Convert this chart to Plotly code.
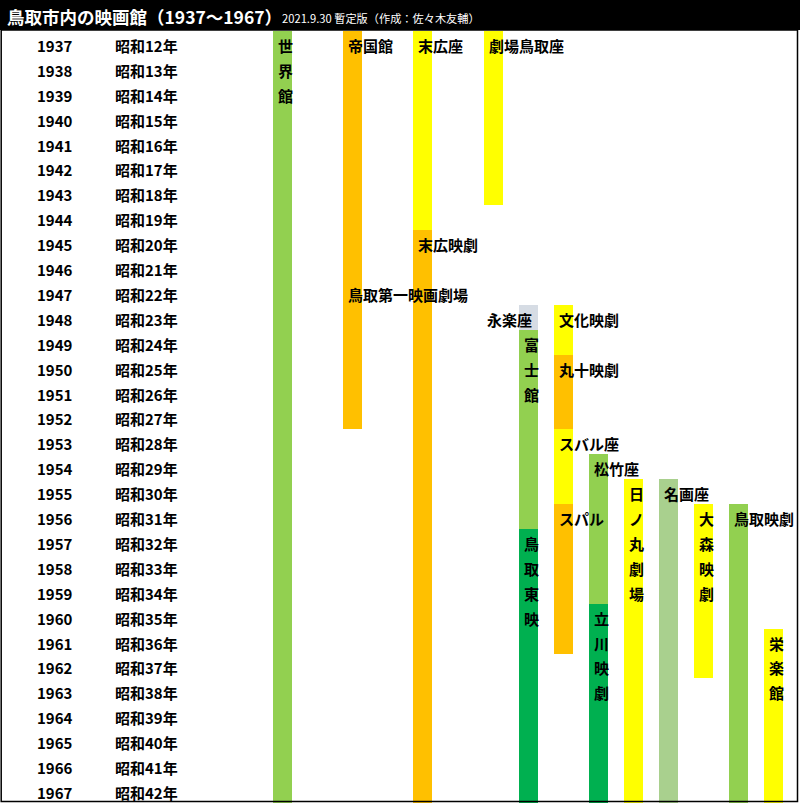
import plotly.graph_objects as go

# ---------------- data ----------------
years = [1937, 1938, 1939, 1940, 1941, 1942, 1943, 1944, 1945, 1946, 1947,
         1948, 1949, 1950, 1951, 1952, 1953, 1954, 1955, 1956, 1957, 1958,
         1959, 1960, 1961, 1962, 1963, 1964, 1965, 1966, 1967]
showa = ["昭和12年", "昭和13年", "昭和14年", "昭和15年", "昭和16年", "昭和17年",
         "昭和18年", "昭和19年", "昭和20年", "昭和21年", "昭和22年", "昭和23年",
         "昭和24年", "昭和25年", "昭和26年", "昭和27年", "昭和28年", "昭和29年",
         "昭和30年", "昭和31年", "昭和32年", "昭和33年", "昭和34年", "昭和35年",
         "昭和36年", "昭和37年", "昭和38年", "昭和39年", "昭和40年", "昭和41年",
         "昭和42年"]

# lanes (one column per cinema lineage)
lanes = ["世界館", "帝国館", "末広座", "劇場鳥取座", "永楽座", "文化映劇",
         "松竹座", "日ノ丸劇場", "名画座", "大森映劇", "鳥取映劇", "栄楽館"]

# operating periods
seg_lane = ["世界館", "帝国館", "末広座", "末広座", "劇場鳥取座",
            "永楽座", "永楽座", "永楽座",
            "文化映劇", "文化映劇", "文化映劇", "文化映劇",
            "松竹座", "松竹座", "日ノ丸劇場", "名画座", "大森映劇", "鳥取映劇", "栄楽館"]
seg_start = [1937, 1937, 1937, 1945, 1937,
             1948, 1949, 1957,
             1948, 1950, 1953, 1956,
             1954, 1960, 1955, 1955, 1956, 1956, 1961]
seg_end = [1967, 1952, 1944, 1967, 1943,
           1948, 1956, 1967,
           1949, 1952, 1955, 1961,
           1959, 1967, 1967, 1967, 1962, 1967, 1967]
seg_group = ["green", "orange", "yellow", "orange", "yellow",
             "gray", "green", "darkgreen",
             "yellow", "orange", "yellow", "orange",
             "green", "darkgreen", "yellow", "lightgreen", "yellow", "green", "yellow"]

# names written in the chart
label_text = ["世界館", "帝国館", "鳥取第一映画劇場", "末広座", "末広映劇", "劇場鳥取座",
              "永楽座", "富士館", "鳥取東映", "文化映劇", "丸十映劇", "スバル座", "スパル",
              "松竹座", "立川映劇", "日ノ丸劇場", "名画座", "大森映劇", "鳥取映劇", "栄楽館"]
label_lane = ["世界館", "帝国館", "帝国館", "末広座", "末広座", "劇場鳥取座",
              "永楽座", "永楽座", "永楽座", "文化映劇", "文化映劇", "文化映劇", "文化映劇",
              "松竹座", "松竹座", "日ノ丸劇場", "名画座", "大森映劇", "鳥取映劇", "栄楽館"]
label_year = [1937, 1937, 1947, 1937, 1945, 1937,
              1948, 1949, 1957, 1948, 1950, 1953, 1956,
              1954, 1960, 1955, 1955, 1956, 1956, 1961]
label_dir = ["v", "h", "h", "h", "h", "h",
             "left", "v", "v", "h", "h", "h", "h",
             "h", "v", "v", "h", "v", "h", "v"]

title = "鳥取市内の映画館（1937〜1967）"
subtitle = "2021.9.30 暫定版（作成：佐々木友輔）"

# ---------------- styles / layout ----------------
palette = {"green": "#92D050", "orange": "#FFC000", "yellow": "#FFFF00",
           "gray": "#D6DCE4", "darkgreen": "#00B050", "lightgreen": "#A9D08E"}
lane_slot = {"世界館": 0, "帝国館": 2, "末広座": 4, "劇場鳥取座": 6, "永楽座": 7,
             "文化映劇": 8, "松竹座": 9, "日ノ丸劇場": 10, "名画座": 11,
             "大森映劇": 12, "鳥取映劇": 13, "栄楽館": 14}
PX_PER_LANE = 35.1
PX_PER_YEAR = 24.9
YEAR_COL = (35 - 282.5) / PX_PER_LANE
SHOWA_COL = (112.5 - 282.5) / PX_PER_LANE
BAR_W = 0.54
FONT = "Noto Sans CJK JP"
FS = 15
YSH = -2.5
W, H = 800, 805
HEADER = 30.5

fig = go.Figure()

fig.add_trace(go.Bar(
    x=[lane_slot[l] for l in seg_lane],
    y=[e - s + 1 for s, e in zip(seg_start, seg_end)],
    base=[s - 0.5 for s in seg_start],
    width=BAR_W,
    marker=dict(color=[palette[g] for g in seg_group], line=dict(width=0)),
    hoverinfo="skip",
    showlegend=False,
))

font = dict(family=FONT, size=FS, color="#000", weight="bold")
annotations = []
for yr, sh in zip(years, showa):
    annotations.append(dict(x=YEAR_COL, y=yr, xref="x", yref="y", text=str(yr),
                            showarrow=False, xanchor="left", yanchor="middle",
                            yshift=YSH, font=font))
    annotations.append(dict(x=SHOWA_COL, y=yr, xref="x", yref="y", text=sh,
                            showarrow=False, xanchor="left", yanchor="middle",
                            yshift=YSH, font=font))

for txt, lane, yr, d in zip(label_text, label_lane, label_year, label_dir):
    left = lane_slot[lane] - BAR_W / 2
    if d == "h":
        annotations.append(dict(x=left, y=yr, xref="x", yref="y", text=txt,
                                showarrow=False, xanchor="left", yanchor="middle",
                                xshift=3, yshift=YSH, font=font))
    elif d == "left":
        annotations.append(dict(x=lane_slot[lane] + BAR_W / 2, y=yr, xref="x", yref="y",
                                text=txt, showarrow=False, xanchor="right",
                                yanchor="middle", xshift=-4, yshift=YSH, font=font))
    else:
        for i, ch in enumerate(txt):
            annotations.append(dict(x=left, y=yr + i, xref="x", yref="y", text=ch,
                                    showarrow=False, xanchor="left", yanchor="middle",
                                    xshift=3, yshift=YSH, font=font))

annotations.append(dict(x=5 / W, y=1 - 17 / H, xref="paper", yref="paper", text=title,
                        showarrow=False, xanchor="left", yanchor="middle",
                        font=dict(family=FONT, size=17.5, color="#fff", weight="bold")))
annotations.append(dict(x=280 / W, y=1 - 18 / H, xref="paper", yref="paper", text=subtitle,
                        showarrow=False, xanchor="left", yanchor="middle",
                        font=dict(family=FONT, size=11.2, color="#fff")))

shapes = [
    dict(type="rect", xref="paper", yref="paper", x0=0, x1=1, y0=1 - 30 / H, y1=1,
         fillcolor="#000", line=dict(width=0), layer="above"),
    dict(type="rect", xref="paper", yref="paper", x0=1.2 / W, x1=797.5 / W,
         y0=(H - 801.5) / H, y1=1 - 30 / H, fillcolor="rgba(0,0,0,0)",
         line=dict(color="#000", width=1.5), layer="above"),
]

x0 = -282.5 / PX_PER_LANE
fig.update_layout(
    width=W, height=H,
    margin=dict(l=0, r=0, t=0, b=0),
    paper_bgcolor="#fff", plot_bgcolor="#fff",
    xaxis=dict(range=[x0, x0 + W / PX_PER_LANE], visible=False, fixedrange=True),
    yaxis=dict(range=[1936.5 + (H - HEADER) / PX_PER_YEAR, 1936.5],
               domain=[0, 1 - HEADER / H], visible=False, fixedrange=True),
    bargap=0,
    annotations=annotations,
    shapes=shapes,
)

fig.write_html("out.html", config={"displayModeBar": False},
               post_script="document.body.style.margin='0';document.body.style.padding='0';"
                           "document.documentElement.style.overflow='hidden';")
